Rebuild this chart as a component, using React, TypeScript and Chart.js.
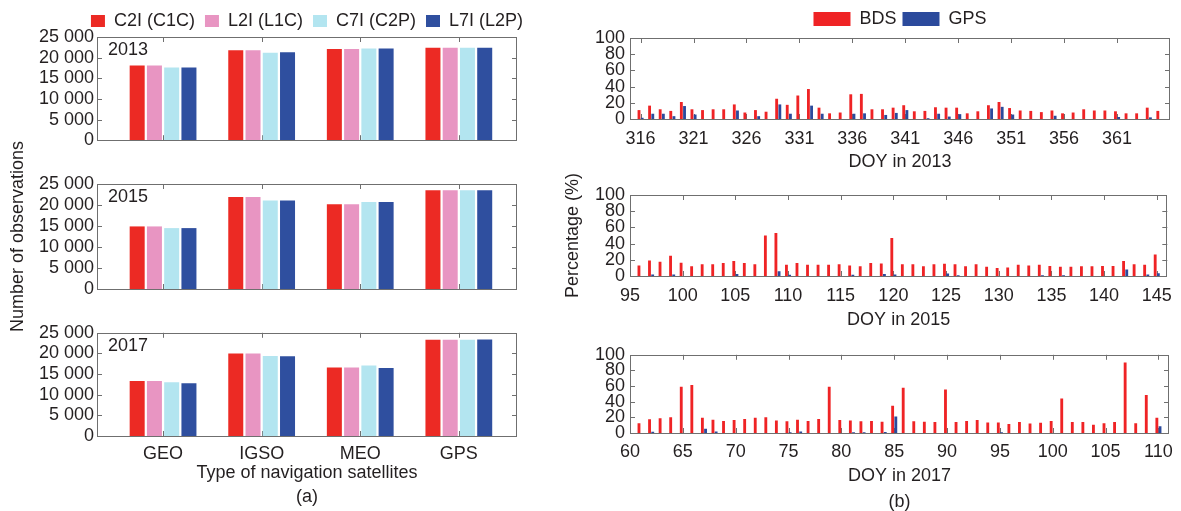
import React, { useEffect, useRef } from 'react';
import { Chart, registerables } from 'chart.js';

Chart.register(...registerables);

const FONT = 'Arial, "Liberation Sans", Helvetica, sans-serif';
const TEXT = '#231f20';
const FRAME = '#6f6f6f';
Chart.defaults.font.family = FONT;
Chart.defaults.color = TEXT;

// ---------- (a) Number of observations ----------
const satTypes = ['GEO', 'IGSO', 'MEO', 'GPS'];
const satPositions = [1, 2, 3, 4];
const obsTicks = [0, 5000, 10000, 15000, 20000, 25000];
const signalLabels = ['C2I (C1C)', 'L2I (L1C)', 'C7I (C2P)', 'L7I (L2P)'];
const signalColors = ['#EC2A24', '#E895C2', '#B3E5F0', '#2F4F9F'];

const c2i2013 = [18100, 21800, 22100, 22400];
const l2i2013 = [18100, 21800, 22100, 22400];
const c7i2013 = [17600, 21200, 22200, 22400];
const l7i2013 = [17600, 21300, 22200, 22400];

const c2i2015 = [14900, 21900, 20200, 23500];
const l2i2015 = [14900, 21900, 20200, 23500];
const c7i2015 = [14500, 21100, 20700, 23500];
const l7i2015 = [14500, 21100, 20700, 23500];

const c2i2017 = [13300, 20000, 16600, 23300];
const l2i2017 = [13300, 20000, 16600, 23300];
const c7i2017 = [13050, 19400, 17100, 23300];
const l7i2017 = [12800, 19300, 16500, 23400];

// ---------- (b) Percentage ----------
const pctTicks = [0, 20, 40, 60, 80, 100];
const systemLabels = ['BDS', 'GPS'];
const systemColors = ['#EF2325', '#2B4A9C'];

const doy2013 = [316, 317, 318, 319, 320, 321, 322, 323, 324, 325, 326, 327, 328, 329, 330, 331, 332, 333, 334, 335, 336, 337, 338, 339, 340, 341, 342, 343, 344, 345, 346, 347, 348, 349, 350, 351, 352, 353, 354, 355, 356, 357, 358, 359, 360, 361, 362, 363, 364, 365];
const bds2013 = [11, 16.5, 12, 10, 21, 12, 11, 12, 12, 18, 8, 11, 9, 25, 17.5, 29, 37, 14, 7, 8, 30.5, 31, 12, 12, 14, 17, 9.5, 10, 14.5, 14, 14, 7, 9.5, 17, 21, 13.5, 10.5, 10, 8.5, 10.5, 7, 8, 12, 10.5, 10.5, 9.5, 7, 7, 14, 10];
const gps2013 = [1.5, 6.5, 6.5, 3.5, 16, 5.5, 0, 0, 0, 10.5, 0, 3.5, 0, 18, 6.5, 0, 16.5, 6.5, 0, 0, 6.5, 7, 0, 5, 7.5, 11, 0, 1, 6.5, 3, 6, 0, 0, 13, 15, 5.5, 0, 0, 0, 4, 0, 0, 0, 0, 0, 2.5, 0, 0, 2, 0];
const doyTicks2013 = [316, 321, 326, 331, 336, 341, 346, 351, 356, 361];

const doy2015 = [96, 97, 98, 99, 100, 101, 102, 103, 104, 105, 106, 107, 108, 109, 110, 111, 112, 113, 114, 115, 116, 117, 118, 119, 120, 121, 122, 123, 124, 125, 126, 127, 128, 129, 130, 131, 132, 133, 134, 135, 136, 137, 138, 139, 140, 141, 142, 143, 144, 145];
const bds2015 = [13, 19, 17.5, 25, 16.5, 12, 14.5, 14.5, 16, 18.5, 16, 14.5, 50, 53, 14, 16, 14, 14, 14, 14.5, 13, 12, 16, 15.5, 47, 14.5, 14.5, 12, 14.5, 15, 14.5, 12, 14.5, 11.5, 10, 10.5, 14, 13, 14, 12.5, 11.5, 11.5, 12, 12, 12.5, 12.5, 18.5, 14.5, 14, 26.5];
const gps2015 = [0, 2, 0, 2, 0, 0, 0, 0, 0, 2.5, 0, 0, 0, 6, 1.5, 0, 0, 0, 0, 0, 1.5, 0, 0, 2.5, 2, 0, 0, 0, 0, 3, 1, 0, 0, 0, 0, 0, 0, 0, 1, 0, 1, 0, 0, 0, 0, 0, 8, 0, 2, 3.5];
const doyTicks2015 = [95, 100, 105, 110, 115, 120, 125, 130, 135, 140, 145];

const doy2017 = [61, 62, 63, 64, 65, 66, 67, 68, 69, 70, 71, 72, 73, 74, 75, 76, 77, 78, 79, 80, 81, 82, 83, 84, 85, 86, 87, 88, 89, 90, 91, 92, 93, 94, 95, 96, 97, 98, 99, 100, 101, 102, 103, 104, 105, 106, 107, 108, 109, 110];
const bds2017 = [12.5, 17.5, 19, 20, 59, 61.5, 19.5, 17, 15.5, 16.5, 18, 19.5, 20, 16, 15, 17, 15.5, 18, 59, 16.5, 16, 15, 15.5, 14.5, 35, 58, 15, 14.5, 14, 55.5, 14, 15.5, 16.5, 13.5, 13.5, 11.5, 14, 12, 13, 15.5, 44, 14, 14, 10.5, 12.5, 14, 90, 12.5, 48.5, 19.5];
const gps2017 = [0, 1.5, 0, 0, 0, 0, 5.5, 2, 0, 0, 0, 0, 0, 0, 1, 2, 0, 0, 0, 0, 0.8, 0.8, 0, 1.2, 21, 0, 0, 0, 0, 0, 0, 0, 0, 0, 1, 0, 0, 0, 0, 0, 0, 0, 0, 0, 0, 0, 0, 0, 0, 8.5];
const doyTicks2017 = [60, 65, 70, 75, 80, 85, 90, 95, 100, 105, 110];

// ---------- helpers ----------
const font18 = { family: FONT, size: 18 };

function fmtObs(v: number): string {
  if (v === 0) return '0';
  const th = Math.floor(v / 1000);
  const r = v % 1000;
  return `${th} ${String(r).padStart(3, '0')}`;
}

const framePlugin = {
  id: 'frame',
  afterLayout(chart: any, _args: any, opts: any) {
    const lg = chart.legend;
    if (lg && chart.options.plugins.legend.display) {
      const a = chart.chartArea;
      const shift = (a.left + a.right) / 2 - (lg.left + lg.right) / 2;
      lg.left += shift;
      lg.right += shift;
      const dy = opts.legendDy || 0;
      lg.top += dy;
      lg.bottom += dy;
    }
  },
  beforeDatasetsDraw(chart: any, _args: any, opts: any) {
    const { ctx, chartArea: a, scales } = chart;
    const L = opts.tickLen || 5;
    const xs = scales.x;
    const ys = scales.y;
    ctx.save();
    ctx.strokeStyle = FRAME;
    ctx.lineWidth = 1;
    ctx.beginPath();
    xs.ticks.forEach((t: any) => {
      const p = Math.round(xs.getPixelForValue(t.value)) + 0.5;
      if (p < a.left + 2 || p > a.right - 2) return;
      ctx.moveTo(p, a.top);
      ctx.lineTo(p, a.top + L);
      ctx.moveTo(p, a.bottom);
      ctx.lineTo(p, a.bottom - L);
    });
    ys.ticks.forEach((t: any) => {
      const p = Math.round(ys.getPixelForValue(t.value)) + 0.5;
      if (p < a.top + 2 || p > a.bottom - 2) return;
      ctx.moveTo(a.left, p);
      ctx.lineTo(a.left + L, p);
      ctx.moveTo(a.right, p);
      ctx.lineTo(a.right - L, p);
    });
    ctx.stroke();
    ctx.restore();
  },
  afterDatasetsDraw(chart: any, _args: any, opts: any) {
    const { ctx, chartArea: a } = chart;
    ctx.save();
    ctx.strokeStyle = FRAME;
    ctx.lineWidth = 1;
    const l = Math.round(a.left);
    const t = Math.round(a.top);
    const r = Math.round(a.right);
    const b = Math.round(a.bottom);
    ctx.strokeRect(l + 0.5, t + 0.5, r - l - 1, b - t);
    if (opts.year) {
      ctx.fillStyle = TEXT;
      ctx.font = `18px ${FONT}`;
      ctx.textAlign = 'left';
      ctx.textBaseline = 'middle';
      ctx.fillText(opts.year, a.left + 11, a.top + 13);
    }
    ctx.restore();
  },
};

type Pad = { left: number; right: number; top: number; bottom: number };

function obsConfig(p: {
  year: string;
  series: number[][];
  legend: boolean;
  legendDy?: number;
  yTitle?: string;
  xLabels: boolean;
  xTitle?: string[];
  xAxisH: number;
  pad: Pad;
}): any {
  return {
    type: 'bar',
    data: {
      datasets: signalLabels.map((label, k) => ({
        label,
        data: satPositions.map((x, i) => ({ x, y: p.series[k][i] })),
        backgroundColor: signalColors[k],
        borderWidth: 0,
        categoryPercentage: 0.7,
        barPercentage: 0.87,
      })),
    },
    options: {
      responsive: false,
      animation: false,
      events: [],
      layout: { padding: p.pad },
      plugins: {
        legend: {
          display: p.legend,
          labels: { boxWidth: 14, boxHeight: 12, padding: 10, color: TEXT, font: font18 },
        },
        tooltip: { enabled: false },
        frame: { legendDy: p.legendDy || 0, year: p.year, tickLen: 5 },
      },
      scales: {
        x: {
          type: 'linear',
          min: 0.33,
          max: 4.59,
          offset: false,
          afterBuildTicks: (s: any) => {
            s.ticks = satPositions.map((v) => ({ value: v }));
          },
          afterFit: (s: any) => {
            s.height = p.xAxisH;
          },
          grid: { display: false, drawTicks: false, offset: false },
          border: { display: false },
          ticks: {
            display: p.xLabels,
            autoSkip: false,
            maxRotation: 0,
            padding: 7,
            color: TEXT,
            font: font18,
            callback: (_v: any, i: number) => satTypes[i],
          },
          title: {
            display: !!p.xTitle,
            text: p.xTitle || '',
            color: TEXT,
            font: { family: FONT, size: 18, lineHeight: 24 / 18 },
            padding: 0,
          },
        },
        y: {
          min: 0,
          max: 25000,
          afterBuildTicks: (s: any) => {
            s.ticks = obsTicks.map((v) => ({ value: v }));
          },
          afterFit: (s: any) => {
            s.width = 90;
          },
          grid: { display: false, drawTicks: false },
          border: { display: false },
          ticks: {
            autoSkip: false,
            padding: 3,
            color: TEXT,
            font: font18,
            callback: (v: any) => fmtObs(Number(v)),
          },
          title: {
            display: !!p.yTitle,
            text: p.yTitle || '',
            color: TEXT,
            font: { family: FONT, size: 18, lineHeight: 1.2 },
            padding: 0,
          },
        },
      },
    },
    plugins: [framePlugin],
  };
}

function pctConfig(p: {
  days: number[];
  bds: number[];
  gps: number[];
  dayTicks: number[];
  min: number;
  max: number;
  legend: boolean;
  yTitle?: string;
  xTitle: string | string[];
  xTitleLH: number;
  xTickPad: number;
  xAxisH: number;
  pad: Pad;
}): any {
  const series = [p.bds, p.gps];
  return {
    type: 'bar',
    data: {
      datasets: systemLabels.map((label, k) => ({
        label,
        data: p.days.map((d, i) => ({ x: d, y: series[k][i] })),
        backgroundColor: systemColors[k],
        borderWidth: 0,
        categoryPercentage: 0.6,
        barPercentage: 0.9,
      })),
    },
    options: {
      responsive: false,
      animation: false,
      events: [],
      layout: { padding: p.pad },
      plugins: {
        legend: {
          display: p.legend,
          labels: { boxWidth: 37, boxHeight: 14, padding: 6, color: TEXT, font: font18 },
        },
        tooltip: { enabled: false },
        frame: { tickLen: 5 },
      },
      scales: {
        x: {
          type: 'linear',
          min: p.min,
          max: p.max,
          offset: false,
          afterBuildTicks: (s: any) => {
            s.ticks = p.dayTicks.map((v) => ({ value: v }));
          },
          afterFit: (s: any) => {
            s.height = p.xAxisH;
          },
          grid: { display: false, drawTicks: false, offset: false },
          border: { display: false },
          ticks: {
            autoSkip: false,
            maxRotation: 0,
            padding: p.xTickPad,
            color: TEXT,
            font: font18,
            callback: (v: any) => String(v),
          },
          title: {
            display: true,
            text: p.xTitle,
            color: TEXT,
            font: { family: FONT, size: 18, lineHeight: p.xTitleLH },
            padding: 0,
          },
        },
        y: {
          min: 0,
          max: 100,
          afterBuildTicks: (s: any) => {
            s.ticks = pctTicks.map((v) => ({ value: v }));
          },
          afterFit: (s: any) => {
            s.width = 68;
          },
          grid: { display: false, drawTicks: false },
          border: { display: false },
          ticks: {
            autoSkip: false,
            padding: 5,
            color: TEXT,
            font: font18,
            callback: (v: any) => String(v),
          },
          title: {
            display: !!p.yTitle,
            text: p.yTitle || '',
            color: TEXT,
            font: { family: FONT, size: 18, lineHeight: 1.2 },
            padding: 0,
          },
        },
      },
    },
    plugins: [framePlugin],
  };
}

type PanelSpec = { key: string; x: number; y: number; w: number; h: number; config: () => any };

const panels: PanelSpec[] = [
  {
    key: 'a2013', x: 0, y: -1, w: 540, h: 155,
    config: () => obsConfig({
      year: '2013', series: [c2i2013, l2i2013, c7i2013, l7i2013], legend: true, legendDy: 3,
      xLabels: false, xAxisH: 0, pad: { left: 7, right: 23, top: 0, bottom: 12 },
    }),
  },
  {
    key: 'a2015', x: 0, y: 130, w: 540, h: 215,
    config: () => obsConfig({
      year: '2015', series: [c2i2015, l2i2015, c7i2015, l7i2015], legend: false,
      yTitle: 'Number of observations', xLabels: false, xAxisH: 0,
      pad: { left: 7, right: 23, top: 54, bottom: 56 },
    }),
  },
  {
    key: 'a2017', x: 0, y: 319, w: 540, h: 192,
    config: () => obsConfig({
      year: '2017', series: [c2i2017, l2i2017, c7i2017, l7i2017], legend: false,
      xLabels: true, xTitle: ['Type of navigation satellites', '(a)'], xAxisH: 73,
      pad: { left: 7, right: 23, top: 12, bottom: 2 },
    }),
  },
  {
    key: 'b2013', x: 540, y: 0, w: 641, h: 175,
    config: () => pctConfig({
      days: doy2013, bds: bds2013, gps: gps2013, dayTicks: doyTicks2013, min: 315, max: 366,
      legend: true, xTitle: 'DOY in 2013', xTitleLH: 1.2, xTickPad: 9, xAxisH: 54,
      pad: { left: 22, right: 11, top: 4, bottom: 2 },
    }),
  },
  {
    key: 'b2015', x: 540, y: 165, w: 641, h: 168,
    config: () => pctConfig({
      days: doy2015, bds: bds2015, gps: gps2015, dayTicks: doyTicks2015, min: 95, max: 146,
      legend: false, yTitle: 'Percentage (%)', xTitle: 'DOY in 2015', xTitleLH: 1.2, xTickPad: 9, xAxisH: 55,
      pad: { left: 22, right: 11, top: 30, bottom: 2 },
    }),
  },
  {
    key: 'b2017', x: 540, y: 339, w: 641, h: 178,
    config: () => pctConfig({
      days: doy2017, bds: bds2017, gps: gps2017, dayTicks: doyTicks2017, min: 60, max: 111,
      legend: false, xTitle: ['DOY in 2017', '(b)'], xTitleLH: 26 / 18, xTickPad: 8, xAxisH: 82,
      pad: { left: 22, right: 11, top: 12, bottom: 2 },
    }),
  },
];

function Panel({ spec }: { spec: PanelSpec }) {
  const ref = useRef<HTMLCanvasElement>(null);
  useEffect(() => {
    if (!ref.current) return;
    const chart = new Chart(ref.current, spec.config());
    return () => chart.destroy();
  }, [spec]);
  return (
    <canvas
      ref={ref}
      width={spec.w}
      height={spec.h}
      style={{ position: 'absolute', left: spec.x, top: spec.y, width: spec.w, height: spec.h }}
    />
  );
}

export default function App() {
  return (
    <div
      style={{
        position: 'fixed',
        left: 0,
        top: 0,
        width: 1181,
        height: 511,
        overflow: 'hidden',
        background: '#ffffff',
      }}
    >
      {panels.map((p) => (
        <Panel key={p.key} spec={p} />
      ))}
    </div>
  );
}
